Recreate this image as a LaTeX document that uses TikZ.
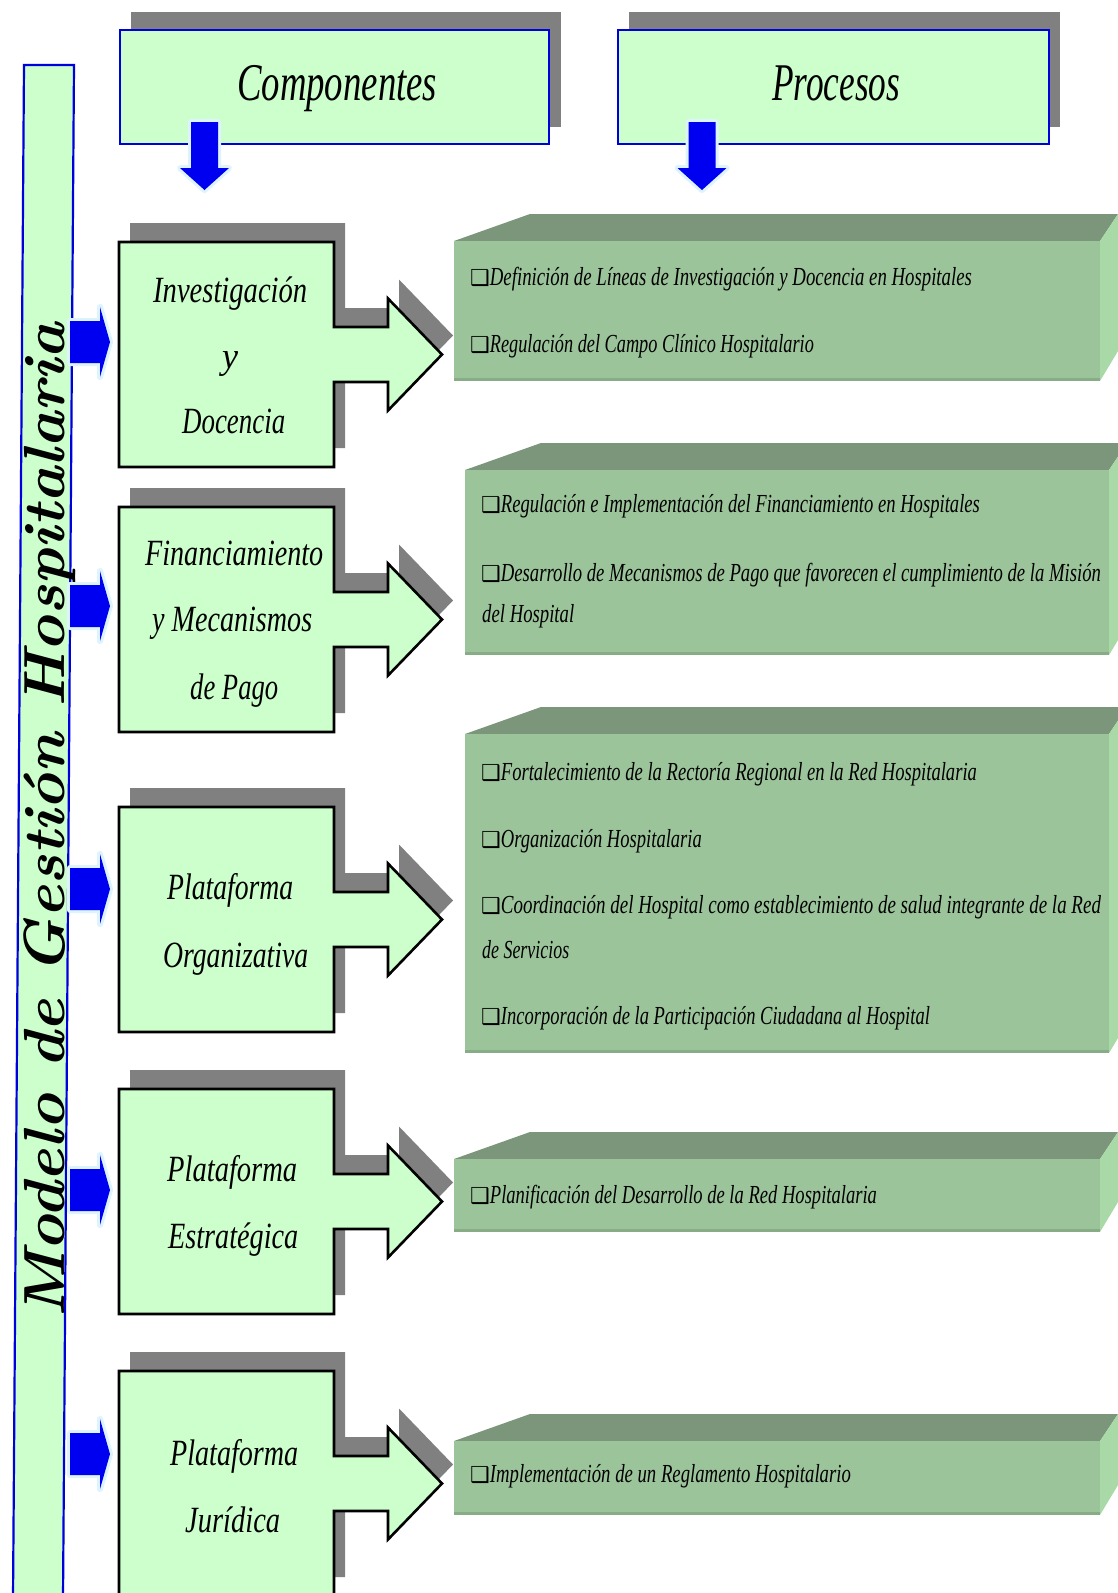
\documentclass[tikz,border=0pt]{standalone}
\usepackage{fontspec}
\usepackage{graphicx}
\newfontfamily\djv{DejaVu Sans}
\newfontfamily\lsf{Liberation Serif}
\definecolor{boxgreen}{HTML}{CCFFCC}
\definecolor{shgray}{HTML}{808080}
\definecolor{pfront}{HTML}{9CC49A}
\definecolor{ptop}{HTML}{7B967B}
\definecolor{pside}{HTML}{A9D9A7}
\definecolor{pbot}{HTML}{88AC86}
\definecolor{hblue}{HTML}{0000DD}
\definecolor{arrblue}{HTML}{0000F0}
\definecolor{glow}{HTML}{DDF4FF}
\newcommand\fw[2]{\resizebox{#1pt}{\height}{#2}}
% component callout box: #1 = top y
\newcommand\gzcomp[1]{%
 \fill[shgray, shift={(11,-19)}] (119,#1) -- (334,#1) -- (334,#1+85) -- (388,#1+85) -- (388,#1+56.5) -- (442,#1+112.5) -- (388,#1+168.5) -- (388,#1+140) -- (334,#1+140) -- (334,#1+225) -- (119,#1+225) -- cycle;
 \filldraw[compfill] (119,#1) -- (334,#1) -- (334,#1+85) -- (388,#1+85) -- (388,#1+56.5) -- (442,#1+112.5) -- (388,#1+168.5) -- (388,#1+140) -- (334,#1+140) -- (334,#1+225) -- (119,#1+225) -- cycle;
}
% process 3D box: #1 L, #2 T, #3 R, #4 B
\newcommand\gzproc[4]{%
 \fill[ptop] (#1,#2) -- (#3,#2) -- (#3+18,#2-27) -- (#1+76,#2-27) -- cycle;
 \fill[pside] (#3,#2) -- (#3+18,#2-27) -- (#3+18,#4-30) -- (#3,#4) -- cycle;
 \fill[pfront] (#1,#2) rectangle (#3,#4);
 \fill[pbot] (#1,#4-3) rectangle (#3,#4);
}
% blue arrow to the right: #1 centre y
\newcommand\gzblue[1]{%
 \draw[glowline] (70,#1-21) -- (100,#1-21) -- (100,#1-35) -- (110,#1) -- (100,#1+35) -- (100,#1+21) -- (70,#1+21) -- cycle;
 \fill[arrblue] (70,#1-21) -- (100,#1-21) -- (100,#1-35) -- (110,#1) -- (100,#1+35) -- (100,#1+21) -- (70,#1+21) -- cycle;
}
% blue arrow down: #1 centre x
\newcommand\gzdown[1]{%
 \draw[glowline] (#1-13.5,122) -- (#1+13.5,122) -- (#1+13.5,168) -- (#1+24.5,168) -- (#1,190) -- (#1-24.5,168) -- (#1-13.5,168) -- cycle;
 \fill[arrblue] (#1-13.5,122) -- (#1+13.5,122) -- (#1+13.5,168) -- (#1+24.5,168) -- (#1,190) -- (#1-24.5,168) -- (#1-13.5,168) -- cycle;
}
% process line with box glyph: name, x, baseline, text width, text
\newcommand\gzpl[5]{%
 \node[ptext] (#1) at (#2,#3) {{\djv\fontsize{22}{22}\selectfont ❑}\fw{#4}{#5}};
}
\begin{document}
\begin{tikzpicture}[x=1pt,y=-1pt,
  compfill/.style={fill=boxgreen, draw=black, line width=2.6pt, line join=miter},
  hdrbox/.style={fill=boxgreen, draw=hblue, line width=2.6pt},
  glowline/.style={draw=glow, line width=6pt, line join=round},
  ctext/.style={anchor=base west, inner sep=0pt, font=\lsf\fontsize{37}{37}\selectfont\itshape},
  ptext/.style={anchor=base west, inner sep=0pt, font=\lsf\fontsize{26}{26}\selectfont\itshape},
  htext/.style={anchor=base west, inner sep=0pt, font=\lsf\fontsize{53}{53}\selectfont\itshape}]
\useasboundingbox (0,0) rectangle (1118,1593);
\clip (0,0) rectangle (1118,1593);
\fill[white] (0,0) rectangle (1118,1593);

% left vertical bar
\filldraw[fill=boxgreen, draw=hblue, line width=2.2pt] (24,65) -- (74,65) -- (63,1600) -- (13,1600) -- cycle;
\node[rotate=90, anchor=base west, inner sep=0pt, font=\fontsize{58}{58}\selectfont\bfseries\itshape] (title) at (64,1318) {\fw{995}{Modelo de Gestión Hospitalaria}};

% headers
\fill[shgray] (131,12) rectangle (561,127);
\filldraw[hdrbox] (120,30) rectangle (549,144);
\node[htext] (hcomp) at (237,100) {\fw{200}{Componentes}};
\fill[shgray] (629,12) rectangle (1060,127);
\filldraw[hdrbox] (618,30) rectangle (1049,144);
\node[htext] (hproc) at (772,100) {\fw{128}{Procesos}};
\gzdown{204.5}
\gzdown{702}

% process boxes
\gzproc{454}{241}{1100}{381}
\gzproc{465}{470}{1109}{655}
\gzproc{465}{734}{1109}{1053}
\gzproc{454}{1159}{1100}{1232}
\gzproc{454}{1441}{1100}{1515}

% component boxes
\gzcomp{242}
\gzcomp{507}
\gzcomp{807}
\gzcomp{1089}
\gzcomp{1371}

% blue arrows from the bar
\gzblue{342}
\gzblue{606}
\gzblue{889}
\gzblue{1190}
\gzblue{1454}

% component texts
\node[ctext] (c1a) at (153,302) {\fw{154}{Investigación}};
\node[ctext] (c1b) at (222,368) {\fw{16}{y}};
\node[ctext] (c1c) at (182,433) {\fw{103}{Docencia}};
\node[ctext] (c2a) at (145,565) {\fw{178}{Financiamiento}};
\node[ctext] (c2b) at (152,631) {\fw{160}{y Mecanismos}};
\node[ctext] (c2c) at (190,699) {\fw{88}{de Pago}};
\node[ctext] (c3a) at (167,899) {\fw{126}{Plataforma}};
\node[ctext] (c3b) at (163,967) {\fw{145}{Organizativa}};
\node[ctext] (c4a) at (167,1181) {\fw{130}{Plataforma}};
\node[ctext] (c4b) at (168,1248) {\fw{130}{Estratégica}};
\node[ctext] (c5a) at (170,1465) {\fw{128}{Plataforma}};
\node[ctext] (c5b) at (185,1532) {\fw{95}{Jurídica}};

% process texts
\gzpl{p1a}{470}{285}{482}{Definición de Líneas de Investigación y Docencia en Hospitales}
\gzpl{p1b}{470}{352}{324}{Regulación del Campo Clínico Hospitalario}
\gzpl{p2a}{481}{512}{479}{Regulación e Implementación del Financiamiento en Hospitales}
\gzpl{p2b}{481}{581}{600}{Desarrollo de Mecanismos de Pago que favorecen el cumplimiento de la Misión}
\node[ptext] (p2c) at (482,622) {\fw{92}{del Hospital}};
\gzpl{p3a}{481}{780}{476}{Fortalecimiento de la Rectoría Regional en la Red Hospitalaria}
\gzpl{p3b}{481}{847}{201}{Organización Hospitalaria}
\gzpl{p3c}{481}{913}{600}{Coordinación del Hospital como establecimiento de salud integrante de la Red}
\node[ptext] (p3d) at (482,958) {\fw{87}{de Servicios}};
\gzpl{p3e}{481}{1024}{429}{Incorporación de la Participación Ciudadana al Hospital}
\gzpl{p4a}{470}{1203}{387}{Planificación del Desarrollo de la Red Hospitalaria}
\gzpl{p5a}{470}{1482}{361}{Implementación de un Reglamento Hospitalario}
\end{tikzpicture}
\end{document}
